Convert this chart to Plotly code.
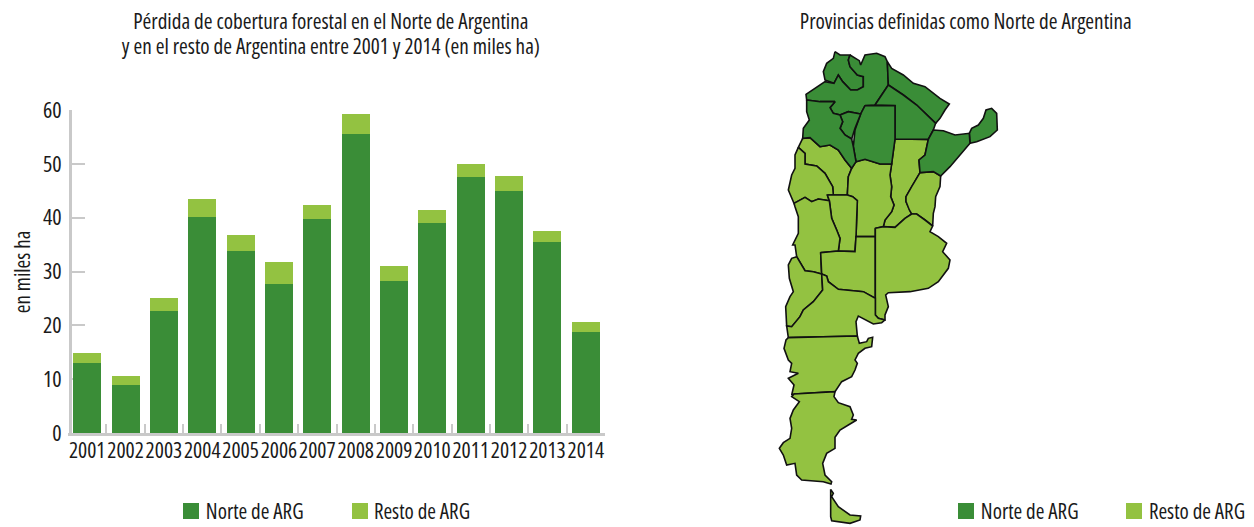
import plotly.graph_objects as go

years = ["2001","2002","2003","2004","2005","2006","2007","2008","2009","2010","2011","2012","2013","2014"]
norte = [13, 9, 22.7, 40.1, 33.8, 27.7, 39.8, 55.6, 28.2, 39, 47.6, 45, 35.4, 18.8]
resto = [1.8, 1.5, 2.3, 3.3, 2.9, 4, 2.6, 3.7, 2.8, 2.4, 2.3, 2.8, 2.2, 1.8]
y_ticks = [0, 10, 20, 30, 40, 50, 60]

DARK = "#3a8d37"
LIGHT = "#93c241"
GREY = "#c9c9c9"
FONT = "Open Sans"
TXT = "#1a1a1a"

jujuy = [(195,35),(210,45),(240,45),(235,60),(240,80),(262,105),(280,110),(280,140),(262,150),(242,150),(218,125),(205,105),(192,130),(165,120),(160,95),(170,70),(190,55)]
salta = [(240,45),(268,62),(272,75),(285,45),(320,40),(345,50),(352,65),(355,135),(315,195),(285,197),(272,222),(235,215),(210,225),(190,220),(180,203),(195,185),(150,185),(110,180),(108,163),(165,125),(192,130),(205,105),(218,125),(242,150),(262,150),(280,140),(280,110),(262,105),(240,80),(235,60)]
formosa = [(352,65),(365,85),(400,105),(430,130),(465,140),(510,175),(538,192),(525,210),(510,235),(497,250),(440,195),(400,165),(355,135)]
chaco = [(355,135),(400,165),(440,195),(497,250),(490,270),(475,298),(375,297),(375,197),(315,195)]
sgo_estero = [(285,197),(375,197),(375,297),(365,372),(330,372),(285,358),(258,365),(250,320),(255,270),(272,222)]
tucuman = [(210,225),(235,215),(272,222),(255,265),(245,297),(225,285),(210,265),(218,245)]
catamarca = [(110,180),(150,185),(195,185),(180,203),(190,220),(210,225),(218,245),(210,265),(225,285),(245,297),(250,320),(258,365),(245,385),(225,360),(205,330),(180,315),(150,320),(120,293),(98,295),(100,265),(118,240),(110,215)]
misiones = [(598,280),(605,265),(625,255),(640,235),(648,210),(665,205),(680,220),(682,270),(660,290),(620,305),(600,310)]
corrientes = [(490,270),(520,272),(555,285),(590,280),(598,280),(600,310),(565,350),(540,380),(512,408),(490,395),(450,398),(447,360),(465,345),(475,298)]
la_rioja = [(98,295),(120,293),(150,320),(180,315),(205,330),(225,360),(245,385),(235,410),(232,465),(190,465),(188,440),(165,400),(140,378),(105,372),(105,340),(85,322)]
san_juan = [(85,322),(105,340),(105,372),(140,378),(165,400),(188,440),(190,465),(172,465),(178,482),(145,477),(125,485),(105,472),(72,490),(55,450),(65,405),(75,385),(75,345)]
santa_fe = [(375,297),(475,298),(465,345),(447,360),(450,398),(425,440),(408,470),(408,485),(418,510),(425,522),(405,535),(375,562),(340,560),(345,540),(365,515),(372,495),(362,470),(365,440),(360,405),(365,372)]
entre_rios = [(450,398),(490,395),(512,408),(510,440),(497,470),(495,500),(490,520),(488,558),(465,540),(440,522),(425,522),(418,510),(408,485),(408,470),(425,440)]
cordoba = [(258,365),(285,358),(330,372),(365,372),(360,405),(365,440),(362,470),(372,495),(365,515),(345,540),(340,560),(316,565),(316,590),(258,590),(262,482),(248,470),(232,465),(235,410),(245,385)]
san_luis = [(172,465),(232,465),(248,470),(262,482),(258,590),(255,635),(205,633),(210,595),(200,570),(185,535),(178,482)]
mendoza = [(72,490),(105,472),(125,485),(145,477),(178,482),(185,535),(200,570),(210,595),(205,633),(152,638),(155,702),(130,695),(105,692),(80,650),(75,615),(68,615),(85,580),(85,530),(75,500)]
la_pampa = [(152,638),(205,633),(255,635),(258,590),(316,590),(316,775),(280,755),(205,748),(175,725),(170,708),(155,702)]
buenos_aires = [(316,565),(340,560),(375,562),(405,535),(425,522),(440,522),(465,540),(488,558),(480,575),(505,590),(530,610),(518,635),(540,660),(535,685),(505,725),(475,745),(420,755),(355,758),(347,765),(355,800),(345,825),(345,840),(325,835),(316,825)]
neuquen = [(80,650),(105,692),(130,695),(155,702),(158,750),(130,785),(100,810),(90,830),(65,860),(50,858),(47,800),(60,770),(70,755),(58,715),(55,675),(65,655)]
rio_negro = [(155,702),(170,708),(175,725),(205,748),(280,755),(316,775),(316,825),(325,835),(345,840),(335,848),(310,852),(285,840),(265,828),(258,845),(262,888),(55,893),(50,858),(65,860),(90,830),(100,810),(130,785),(158,750)]
chubut = [(55,893),(262,888),(268,910),(290,905),(295,895),(308,892),(305,920),(285,925),(265,940),(255,960),(262,970),(255,990),(245,1010),(215,1025),(195,1055),(72,1062),(65,1065),(72,1035),(55,1015),(85,1000),(60,995),(65,970),(55,960),(42,925),(48,900)]
santa_cruz = [(72,1062),(195,1055),(192,1070),(205,1088),(240,1100),(250,1125),(245,1138),(260,1140),(235,1155),(210,1170),(195,1192),(195,1225),(170,1240),(158,1270),(165,1305),(185,1325),(183,1332),(160,1325),(95,1320),(80,1305),(75,1270),(50,1275),(40,1245),(28,1225),(40,1208),(60,1195),(65,1165),(60,1135),(70,1110),(88,1085),(65,1070)]
tierra_del_fuego = [(182,1348),(190,1360),(185,1370),(205,1400),(240,1425),(272,1428),(270,1440),(240,1450),(185,1442),(182,1430)]

provinces_north = [jujuy, salta, formosa, chaco, sgo_estero, tucuman, catamarca, misiones, corrientes]
provinces_rest = [la_rioja, san_juan, santa_fe, entre_rios, cordoba, san_luis, mendoza, la_pampa,
                  buenos_aires, neuquen, rio_negro, chubut, santa_cruz, tierra_del_fuego]

W, H = 1254, 527
fig = go.Figure()
fig.add_bar(x=years, y=norte, name="Norte de ARG", marker_color=DARK, marker_line_width=0, showlegend=False)
fig.add_bar(x=years, y=resto, name="Resto de ARG", marker_color=LIGHT, marker_line_width=0, showlegend=False)

def draw(poly, color):
    xs = [p[0] for p in poly] + [poly[0][0]]
    ys = [p[1] for p in poly] + [poly[0][1]]
    fig.add_scatter(x=xs, y=ys, xaxis="x2", yaxis="y2", mode="lines", fill="toself",
                    fillcolor=color, line=dict(color="#111111", width=1.6),
                    hoverinfo="skip", showlegend=False)

for p in provinces_rest:
    draw(p, LIGHT)
for p in provinces_north:
    draw(p, DARK)

def fnt(size):
    return dict(family=FONT, size=size, color=TXT)

def note(text, x, y, size, **kw):
    fig.add_annotation(text=text, x=x/W, y=1-y/H, xref="paper", yref="paper", showarrow=False,
                       xanchor="center", yanchor="middle", font=fnt(size), **kw)

note("Pérdida de cobertura forestal en el Norte de Argentina", 331, 21, 21.2)
note("y en el resto de Argentina entre 2001 y 2014 (en miles ha)", 331, 45, 21.2)
note("Provincias definidas como Norte de Argentina", 965.5, 21, 21.2)
note("en miles ha", 22, 272, 21, textangle=-90)

for (x0, xc, label, col) in [(183, 254, "Norte de ARG", DARK), (352, 421.5, "Resto de ARG", LIGHT),
                             (958, 1029, "Norte de ARG", DARK), (1126, 1196.5, "Resto de ARG", LIGHT)]:
    fig.add_shape(type="rect", x0=x0/W, x1=(x0+16)/W, y0=1-519/H, y1=1-503/H, xref="paper", yref="paper",
                  fillcolor=col, line_width=0)
    note(label, xc, 511, 21)

fig.update_layout(
    width=W, height=H, margin=dict(l=0, r=0, t=0, b=0, autoexpand=False), barmode="stack", bargap=0.27,
    paper_bgcolor="white", plot_bgcolor="rgba(0,0,0,0)", showlegend=False,
    font=fnt(21),
    xaxis=dict(domain=[68/W, 605/W], type="category", tickson="boundaries", ticks="inside", ticklen=9,
               tickwidth=2, tickcolor=GREY, showline=True, linecolor=GREY, linewidth=3, showgrid=False,
               tickfont=fnt(21.5), tickangle=0, ticklabelstandoff=-4, layer="below traces", anchor="y"),
    yaxis=dict(domain=[1-433/H, 1-110/H], range=[0, 60], tickvals=y_ticks, ticks="inside", ticklen=13,
               tickwidth=2, tickcolor=GREY, showline=True, linecolor=GREY, linewidth=3, showgrid=False,
               tickfont=fnt(22), layer="below traces", anchor="free", position=70/W, ticklabelstandoff=3),
    xaxis2=dict(domain=[0, 1], range=[-2310, 1452], visible=False, anchor="y2"),
    yaxis2=dict(domain=[0, 1], range=[1461, -120], visible=False, anchor="x2"),
)
# Narrow the text as in the reference, then redraw so that Plotly measures it narrowed.
STYLE = ("var s=document.createElement('style');"
         "s.textContent='body{margin:0} svg text{font-stretch:62.5% !important}';"
         "document.head.appendChild(s);"
         "Plotly.redraw(document.getElementById('{plot_id}'));")
fig.write_html("out.html", post_script=STYLE, config=dict(displayModeBar=False))
